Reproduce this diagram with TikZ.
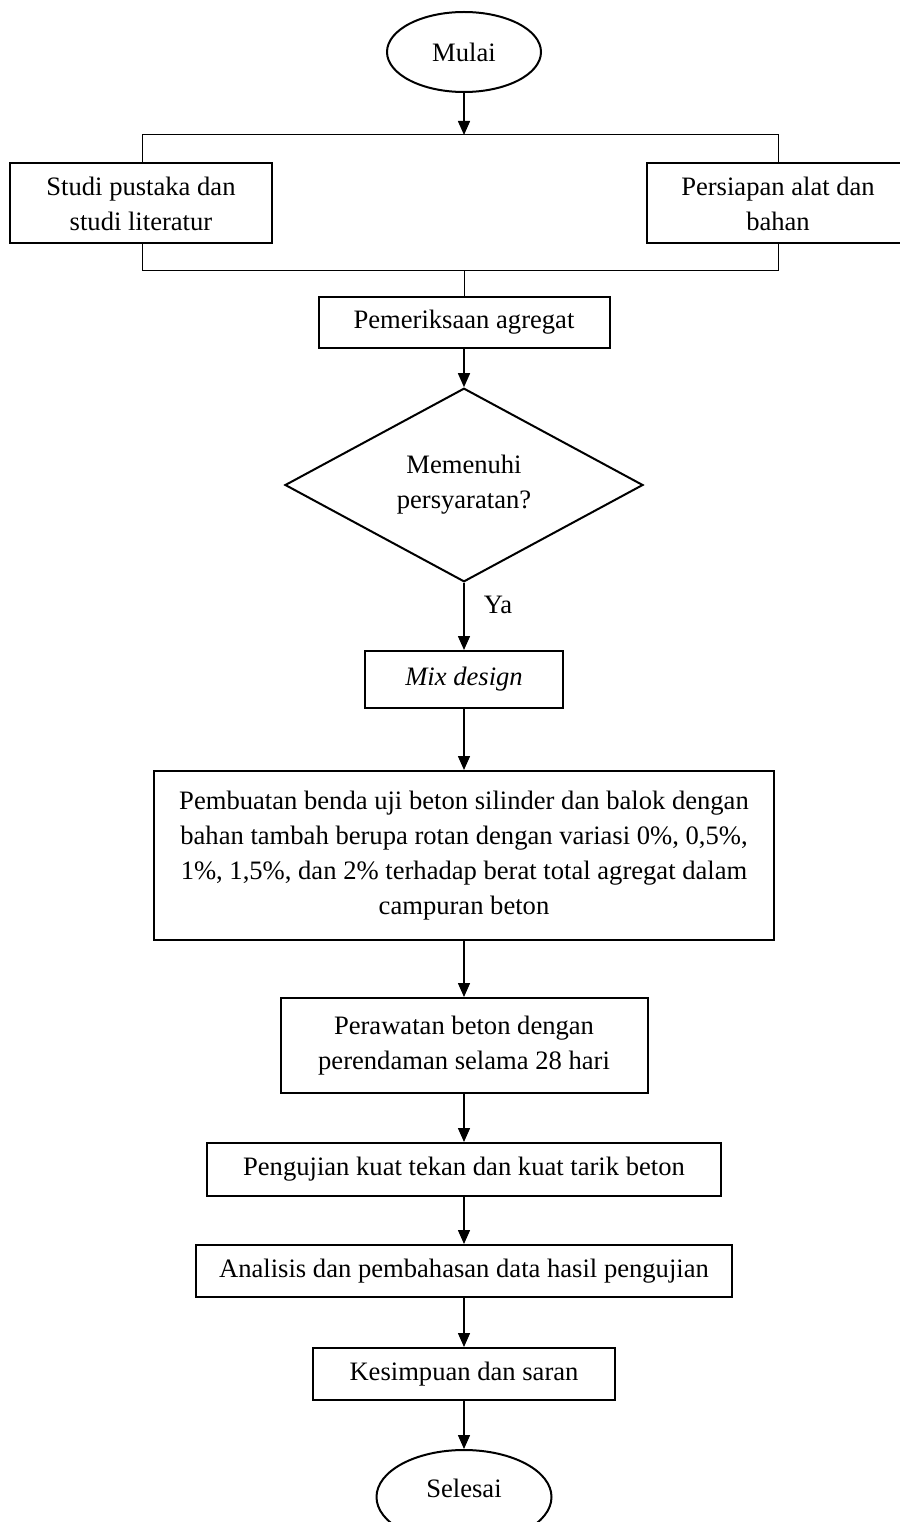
\documentclass[tikz,border=0pt]{standalone}
\usepackage{fontspec}
\setmainfont{Liberation Serif}
\usetikzlibrary{shapes.geometric,arrows.meta}
\begin{document}
\begin{tikzpicture}[x=1pt,y=-1pt,
  every node/.style={font=\fontsize{26.6}{35}\selectfont, align=center, inner sep=0pt},
  box/.style={draw, rectangle, line width=2pt},
  term/.style={draw, ellipse, line width=2pt},
  decision/.style={draw, diamond, line width=2pt},
  flow/.style={line width=1.5pt, -{Triangle[length=14pt,width=12pt]}},
  thinline/.style={line width=1pt}]
\useasboundingbox (0,0) rectangle (899,1522);

\node[term, minimum width=154pt, minimum height=80pt] (start) at (464,52) {Mulai};
\node[box, minimum width=262pt, minimum height=80pt] (lit) at (141,203.5) {Studi pustaka dan\\studi literatur};
\node[box, minimum width=262pt, minimum height=80pt] (prep) at (778,203.5) {Persiapan alat dan\\bahan};
\coordinate (sTop) at (464,135);
\coordinate (tl) at (142,135);
\coordinate (tr) at (778,135);
\coordinate (bl) at (142,270);
\coordinate (br) at (778,270);
\coordinate (sBot) at (464,270);
\node[box, minimum width=291pt, minimum height=51pt] (pem) at (464,322.5) {Pemeriksaan agregat};
\node[decision, minimum width=358pt, minimum height=190pt] (dec) at (464,485) {Memenuhi\\persyaratan?};
\node (ya) at (498,605) {Ya};
\node[box, minimum width=198pt, minimum height=57pt] (mix) at (464,679.5) {\itshape Mix design};
\node[box, minimum width=620pt, minimum height=169pt] (make) at (464,855.5) {Pembuatan benda uji beton silinder dan balok dengan\\bahan tambah berupa rotan dengan variasi 0\%, 0,5\%,\\1\%, 1,5\%, dan 2\% terhadap berat total agregat dalam\\campuran beton};
\node[box, minimum width=367pt, minimum height=95pt] (cure) at (464,1045.5) {Perawatan beton dengan\\perendaman selama 28 hari};
\node[box, minimum width=514pt, minimum height=53pt] (test) at (464,1169.5) {Pengujian kuat tekan dan kuat tarik beton};
\node[box, minimum width=536pt, minimum height=52pt] (anl) at (464,1271) {Analisis dan pembahasan data hasil pengujian};
\node[box, minimum width=302pt, minimum height=52pt] (concl) at (464,1374) {Kesimpuan dan saran};
\node[term, minimum width=175pt, minimum height=94pt, text height=18pt, text depth=18pt] (end) at (464,1497) {Selesai};

\draw[flow] (start.south) -- (sTop);
\draw[thinline] (tl |- lit.north) -- (tl) -- (tr) -- (tr |- prep.north);
\draw[thinline] (bl |- lit.south) -- (bl) -- (br) -- (br |- prep.south);
\draw[thinline] (sBot) -- (pem.north);
\draw[flow] (pem.south) -- (dec.north);
\draw[flow] (dec.south) -- (mix.north);
\draw[flow] (mix.south) -- (make.north);
\draw[flow] (make.south) -- (cure.north);
\draw[flow] (cure.south) -- (test.north);
\draw[flow] (test.south) -- (anl.north);
\draw[flow] (anl.south) -- (concl.north);
\draw[flow] (concl.south) -- (end.north);
\end{tikzpicture}
\end{document}
